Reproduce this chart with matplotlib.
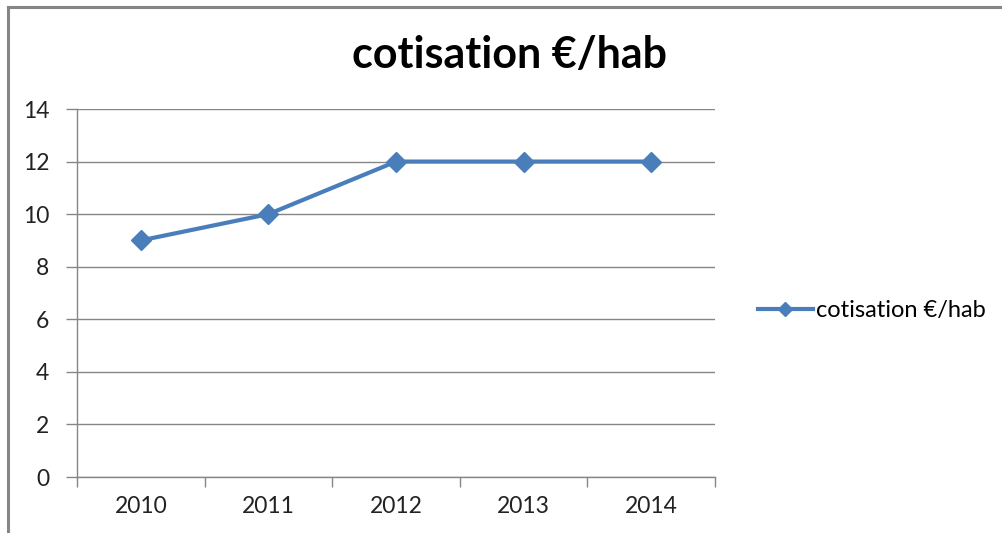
import matplotlib
matplotlib.use("Agg")
import matplotlib.pyplot as plt
from matplotlib.lines import Line2D

years = ["2010", "2011", "2012", "2013", "2014"]
values = [9, 10, 12, 12, 12]
series_name = "cotisation €/hab"
title = "cotisation €/hab"

plt.rcParams['font.family'] = ['Lato', 'DejaVu Sans']

W, H = 1003, 533
fig = plt.figure(figsize=(W/100, H/100), dpi=100)
ax = fig.add_axes([77/W, 1-477/H, (715-77)/W, (477-109)/H])

x = list(range(len(years)))
ax.plot(x, values, color='#4A7EBB', lw=3, marker='D', markersize=10.5,
        markerfacecolor='#4A7EBB', markeredgecolor='#4A7EBB', label=series_name, zorder=3)

ax.set_xlim(-0.5, len(years)-0.5)
ax.set_ylim(0, 14)
ax.set_yticks(range(0, 15, 2))
ax.set_xticks(x)
ax.set_xticklabels(years)
ax.set_xticks([i - 0.5 for i in range(len(years)+1)], minor=True)
ax.tick_params(axis='x', which='major', length=0, pad=14, labelsize=16.5, colors='#222222')
ax.tick_params(axis='x', which='minor', length=7, width=1, color='#868686')
ax.tick_params(axis='y', length=8, width=1, color='#868686', pad=12, labelsize=16.5, labelcolor='#222222')
ax.grid(axis='y', color='#868686', lw=1)
ax.set_axisbelow(True)
for s in ['top', 'right']:
    ax.spines[s].set_visible(False)
for s in ['left', 'bottom']:
    ax.spines[s].set_color('#868686')
    ax.spines[s].set_linewidth(1)

fig.text(510/W, 1-55/H, title, ha='center', va='center', fontsize=31, fontweight='bold', color='black')

leg = fig.legend(loc='center left', bbox_to_anchor=(737/W, 1-311/H), frameon=False,
                 fontsize=17, handlelength=2.3, handletextpad=0.15, markerscale=0.7)

# outer frame (left and top)
fig.add_artist(Line2D([8/W, 8/W], [0, 1-7/H], color='#868686', lw=2.2, transform=fig.transFigure))
fig.add_artist(Line2D([8/W, 1], [1-7/H, 1-7/H], color='#868686', lw=2.2, transform=fig.transFigure))

fig.savefig('out.png', dpi=100)
